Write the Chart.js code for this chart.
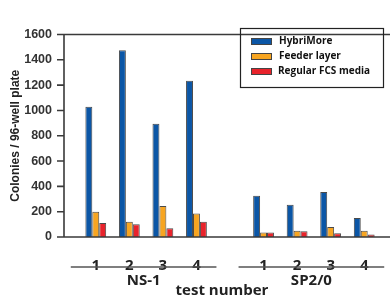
<!DOCTYPE html>
<html lang="en">
<head>
  <meta charset="UTF-8" />
  <title>Colonies per plate</title>
  <script src="https://cdn.jsdelivr.net/npm/chart.js"></script>
  <style>
    body { margin: 0; background: #fff; }
    #wrap { width: 390px; height: 298px; }
  </style>
</head>
<body>
  <div id="wrap"><canvas id="chart"></canvas></div>
  <script>
    // test numbers; the empty slot is the gap between the two cell lines
    const tests = ['1', '2', '3', '4', '', '1', '2', '3', '4'];
    const hybriMore = [1030, 1475, 895, 1235, null, 325, 255, 355, 150];
    const feederLayer = [200, 120, 245, 185, null, 35, 50, 80, 50];
    const regularFcs = [110, 100, 70, 120, null, 35, 45, 30, 20];
    const yTicks = [0, 200, 400, 600, 800, 1000, 1200, 1400, 1600];
    const groups = ['NS-1', 'SP2/0'];

    const axisColor = '#3a3a3a';

    const framePlugin = {
      id: 'frame',
      afterDraw(chart) {
        const c = chart.ctx;
        const y = chart.scales.y;
        const x = chart.scales.x;
        const area = chart.chartArea;
        const axisX = 64;
        c.save();
        c.strokeStyle = axisColor;
        c.lineWidth = 1.6;
        // axis frame
        c.beginPath();
        c.moveTo(axisX, area.top);
        c.lineTo(axisX, area.bottom);
        c.moveTo(axisX - 7, area.top);
        c.lineTo(chart.width, area.top);
        c.moveTo(axisX - 7, area.bottom);
        c.lineTo(chart.width, area.bottom);
        yTicks.forEach(v => {
          const py = y.getPixelForValue(v);
          c.moveTo(axisX - 7, py);
          c.lineTo(axisX, py);
        });
        c.stroke();

        // group underlines and names
        c.strokeStyle = '#555';
        c.lineWidth = 1.4;
        c.fillStyle = '#222';
        c.font = 'bold 15px "Open Sans"';
        c.textAlign = 'center';
        c.textBaseline = 'middle';
        const spans = [[0, 3], [5, 8]];
        spans.forEach((s, i) => {
          const x0 = x.getPixelForValue(s[0]) - 25;
          const x1 = x.getPixelForValue(s[1]) + 20;
          c.beginPath();
          c.moveTo(x0, 267);
          c.lineTo(x1, 267);
          c.stroke();
          c.fillText(groups[i], (x0 + x1) / 2, 281);
        });
        c.fillText('test number', 222, 291);

        // y title
        c.save();
        c.translate(16, (area.top + area.bottom) / 2);
        c.rotate(-Math.PI / 2);
        c.font = 'bold 12px "Liberation Sans", Arial, sans-serif';
        c.fillText('Colonies / 96-well plate', 0, 0);
        c.restore();

        // legend
        const lx = 240, ly = 28, lw = 143, lh = 59;
        c.strokeStyle = '#222';
        c.lineWidth = 1.2;
        c.strokeRect(lx + 0.5, ly + 0.5, lw, lh);
        c.font = 'bold 10px "Open Sans"';
        c.textAlign = 'left';
        chart.data.datasets.forEach((ds, i) => {
          const ry = 41 + i * 15;
          c.fillStyle = ds.backgroundColor;
          c.fillRect(251, ry - 3, 21, 7);
          c.strokeStyle = '#444';
          c.lineWidth = 1;
          c.strokeRect(251.5, ry - 2.5, 20, 6);
          c.fillStyle = '#111';
          c.fillText(ds.label, i === 2 ? 278 : 279, ry);
        });
        c.restore();
      }
    };

    new Chart(document.getElementById('chart'), {
      type: 'bar',
      data: {
        labels: tests,
        datasets: [
          { label: 'HybriMore', data: hybriMore, backgroundColor: '#0b56a6' },
          { label: 'Feeder layer', data: feederLayer, backgroundColor: '#f7a521' },
          { label: 'Regular FCS media', data: regularFcs, backgroundColor: '#e8232b' }
        ]
      },
      options: {
        responsive: true,
        maintainAspectRatio: false,
        animation: false,
        layout: { padding: { top: 16, right: 9, left: 0, bottom: 0 } },
        datasets: {
          bar: {
            borderColor: '#4a4a4a',
            borderWidth: 1,
            barPercentage: 1,
            categoryPercentage: 0.62
          }
        },
        plugins: {
          legend: { display: false },
          tooltip: { enabled: false }
        },
        scales: {
          x: {
            grid: { display: false },
            border: { display: false },
            afterFit(scale) { scale.height = 61; },
            ticks: {
              color: '#222',
              padding: 12,
              font: { family: 'Open Sans', size: 15, weight: 'bold' }
            }
          },
          y: {
            min: 0,
            max: 1600,
            afterFit(scale) { scale.width = 79; },
            afterBuildTicks(scale) { scale.ticks = yTicks.map(v => ({ value: v })); },
            grid: { display: false, drawTicks: false },
            border: { display: false },
            ticks: {
              color: '#333',
              padding: 27,
              callback: v => String(v),
              font: { family: 'Liberation Sans', size: 12.5, weight: 'bold' }
            }
          }
        }
      },
      plugins: [framePlugin]
    });
  </script>
</body>
</html>
